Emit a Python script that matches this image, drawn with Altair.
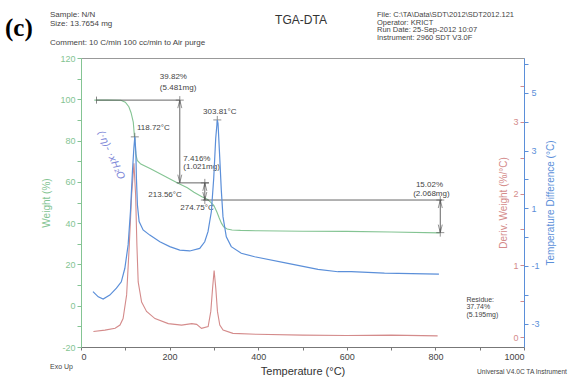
import altair as alt
import pandas as pd

# ---------------- data ----------------
# TGA weight curve (%)
tga_temp = [30, 60, 90, 100, 108, 113, 118, 121, 123.5, 127, 135, 157, 187, 217, 240, 255, 273, 285,
            293, 300, 307, 312, 317, 322, 330, 341, 360, 400, 500, 600, 700, 810]
tga_weight = [99.6, 99.6, 99.5, 98.6, 96.4, 93.5, 88.9, 81, 73.7, 70.4, 68.6, 66.4, 63, 59.6, 57.1, 55,
              52.8, 51.6, 50.1, 48.5, 45.3, 42.5, 40, 38.2, 37.2, 36.7, 36.5, 36.3, 36.1, 36.0, 35.7, 35.3]

# DTG derivative weight curve (%/°C)
dtg_temp = [28, 54, 77, 88, 95, 103, 109, 114.3, 119.5, 123.3, 126.2, 129.1, 136.8, 148, 167, 197, 227,
            250, 261, 272, 287, 293, 297, 300.5, 304.3, 308, 313.3, 320.7, 343, 396, 500, 600, 700, 805]
dtg_value = [0.08, 0.10, 0.125, 0.17, 0.26, 0.59, 1.28, 1.98, 2.42, 1.98, 1.28, 0.77, 0.49, 0.36, 0.26,
             0.19, 0.17, 0.19, 0.18, 0.125, 0.15, 0.36, 0.68, 0.93, 0.68, 0.36, 0.17, 0.10, 0.055, 0.042,
             0.03, 0.025, 0.03, 0.02]

# DTA temperature difference curve (°C)
dta_temp = [27, 39, 50, 65, 80, 91, 99, 106.4, 111.6, 116.1, 119.3, 121.5, 123.8, 125.1, 127.4, 131.2,
            140.2, 155.3, 178, 200.4, 223, 245.5, 268, 279.3, 286.7, 294.2, 299.6, 304.1, 307.7, 309.3,
            313.1, 316.7, 320.5, 328, 339.2, 361.8, 392, 467, 535, 580, 610, 685, 808]
dta_value = [-1.89, -2.07, -2.15, -2.01, -1.77, -1.55, -1.08, -0.27, 0.88, 2.27, 3.08, 3.48, 2.96, 2.04,
             1.11, 0.54, 0.25, 0.07, -0.16, -0.33, -0.45, -0.48, -0.39, -0.16, 0.19, 0.88, 2.04, 3.43,
             4.06, 3.95, 2.79, 1.63, 0.71, 0.01, -0.33, -0.56, -0.68, -0.91, -1.12, -1.2, -1.2, -1.25,
             -1.28]

# step annotations (temperature, weight)
seg_t1 = [35, 223, 216, 279.5, 275, 811]
seg_t2 = [223, 223, 289, 279.5, 815, 811]
seg_w1 = [99.6, 99.6, 59.5, 59.5, 51.2, 51.2]
seg_w2 = [99.6, 59.6, 59.5, 51.2, 51.2, 35.4]

arrow_up_t = [223, 279.5, 811]
arrow_up_w = [99.6, 59.5, 51.2]
arrow_dn_t = [223, 279.5, 811]
arrow_dn_w = [59.6, 51.2, 35.4]

cross_t = [121.5, 307.7, 223, 279.5, 279.5, 811, 811]
cross_w = [81.8, 90.0, 99.6, 59.5, 51.2, 51.2, 35.4]

lab_left_t = [178, 178, 126.2, 231, 231, 152, 224]
lab_left_w = [110.9, 105.6, 86, 71.1, 67, 53.6, 47.3]
lab_left_text = ["39.82%", "(5.481mg)", "118.72°C", "7.416%", "(1.021mg)", "213.56°C", "274.75°C"]
res_t = [870, 870, 870]
res_w = [2.8, -0.8, -4.4]
res_text = ["Residue:", "37.74%", "(5.195mg)"]
lab_center_t = [313.3, 786.6, 791]
lab_center_w = [93.9, 58.3, 53.9]
lab_center_text = ["303.81°C", "15.02%", "(2.068mg)"]

x_ticks = list(range(0, 1001, 100))
w_ticks = list(range(-20, 121, 10))
r_ticks = [0, 0.5, 1, 1.5, 2, 2.5, 3, 3.5]
b_ticks = [-3, -2, -1, 0, 1, 2, 3, 4, 5, 6]

# ---------------- styling ----------------
FONT = "Liberation Sans"
GREEN = "#84c493"
RED = "#d48b8b"
BLUE = "#5b8fd9"
GRAY = "#555555"
TXT = "#444444"

W_PLOT, H_PLOT = 443, 289

x_axis = alt.Axis(values=x_ticks, labelExpr="datum.value % 200 == 0 ? '' + datum.value : ''",
                  title="Temperature (°C)", grid=False, tickSize=3, domainColor="#777",
                  tickColor="#777", labelColor=TXT, labelFontSize=9, titleFontSize=11,
                  titleFontWeight="normal", titleColor="#333", titlePadding=4, labelPadding=2,
                  labelFont=FONT, titleFont=FONT)
x_scale = alt.Scale(domain=[0, 1000], nice=False, zero=False)


def X(f):
    return alt.X(f"{f}:Q", scale=x_scale, axis=x_axis)


w_axis = alt.Axis(values=w_ticks, labelExpr="datum.value % 20 == 0 ? '' + datum.value : ''",
                  title="Weight (%)", grid=False, tickSize=4, domainColor=GREEN, tickColor=GREEN,
                  labelColor=GREEN, titleColor=GREEN, labelFontSize=9, titleFontSize=10,
                  titleFontWeight="normal", labelFont=FONT, titleFont=FONT, titlePadding=8,
                  labelPadding=2)
w_scale = alt.Scale(domain=[-20, 120], nice=False, zero=False)


def YW(f):
    return alt.Y(f"{f}:Q", scale=w_scale, axis=w_axis)


# ---------------- weight layer with annotations ----------------
green = alt.Chart(pd.DataFrame({"T": tga_temp, "W": tga_weight})).mark_line(
    color=GREEN, strokeWidth=1.1).encode(x=X("T"), y=YW("W"))

segs = alt.Chart(pd.DataFrame({"t1": seg_t1, "t2": seg_t2, "w1": seg_w1, "w2": seg_w2})).mark_rule(
    color=GRAY, strokeWidth=0.9).encode(x=X("t1"), x2="t2", y=YW("w1"), y2="w2")

start_tick = alt.Chart(pd.DataFrame({"T": [tga_temp[0] + 5], "W": [seg_w1[0]]})).mark_point(
    shape="M0,-1L0,1", size=49, color=GRAY, strokeWidth=1).encode(x=X("T"), y=YW("W"))

up = alt.Chart(pd.DataFrame({"T": arrow_up_t, "W": arrow_up_w})).mark_point(
    shape="M-1,4L0,0L1,4", size=16, color=GRAY, strokeWidth=0.9, filled=False).encode(
    x=X("T"), y=YW("W"))
dn = alt.Chart(pd.DataFrame({"T": arrow_dn_t, "W": arrow_dn_w})).mark_point(
    shape="M-1,-4L0,0L1,-4", size=16, color=GRAY, strokeWidth=0.9, filled=False).encode(
    x=X("T"), y=YW("W"))

crosses = alt.Chart(pd.DataFrame({"T": cross_t, "W": cross_w})).mark_point(
    shape="M-1,0L1,0M0,-1L0,1", size=64, color=GRAY, strokeWidth=0.9, filled=False).encode(
    x=X("T"), y=YW("W"))

lab_l = alt.Chart(pd.DataFrame({"T": lab_left_t, "W": lab_left_w, "s": lab_left_text})).mark_text(
    align="left", baseline="middle", font=FONT, fontSize=8, color=TXT).encode(
    x=X("T"), y=YW("W"), text="s:N")
lab_r = alt.Chart(pd.DataFrame({"T": res_t, "W": res_w, "s": res_text})).mark_text(
    align="left", baseline="middle", font=FONT, fontSize=7, color=TXT).encode(
    x=X("T"), y=YW("W"), text="s:N")
lab_c = alt.Chart(pd.DataFrame({"T": lab_center_t, "W": lab_center_w, "s": lab_center_text})).mark_text(
    align="center", baseline="middle", font=FONT, fontSize=8, color=TXT).encode(
    x=X("T"), y=YW("W"), text="s:N")

hand = alt.Chart(pd.DataFrame({"T": [67.6], "W": [73.0], "s": ["(·η)- ·xH₂O"]})).mark_text(
    align="center", baseline="middle", font="DejaVu Sans", fontStyle="italic", fontSize=10,
    color="#8088d8", angle=66).encode(x=X("T"), y=YW("W"), text="s:N")

weight_layer = alt.layer(green, segs, start_tick, up, dn, crosses, lab_l, lab_r, lab_c, hand)

# ---------------- DTG layer ----------------
r_axis = alt.Axis(orient="left", offset=-W_PLOT, values=r_ticks,
                  labelExpr="datum.value % 1 == 0 ? '' + datum.value : ''", domain=False, grid=False,
                  tickSize=4, tickColor=RED, labelColor=RED, titleColor=RED,
                  title="Deriv. Weight (%/°C)", labelFontSize=9, titleFontSize=10,
                  titleFontWeight="normal", labelFont=FONT, titleFont=FONT, titlePadding=4,
                  labelPadding=2)
red = alt.Chart(pd.DataFrame({"T": dtg_temp, "R": dtg_value})).mark_line(
    color=RED, strokeWidth=1.1).encode(
    x=X("T"),
    y=alt.Y("R:Q", scale=alt.Scale(domain=[-0.135, 3.885], nice=False, zero=False), axis=r_axis))

# ---------------- DTA layer ----------------
b_axis = alt.Axis(orient="right", values=b_ticks,
                  labelExpr="abs(datum.value) % 2 == 1 ? '' + datum.value : ''", domainColor=BLUE,
                  grid=False, tickSize=4, tickColor=BLUE, labelColor=BLUE, titleColor=BLUE,
                  title="Temperature Difference (°C)", titleAngle=270, titleBaseline="top",
                  labelFontSize=9, titleFontSize=10, titleFontWeight="normal", labelFont=FONT,
                  titleFont=FONT, titlePadding=6, labelPadding=3)
blue = alt.Chart(pd.DataFrame({"T": dta_temp, "D": dta_value})).mark_line(
    color=BLUE, strokeWidth=1.2).encode(
    x=X("T"),
    y=alt.Y("D:Q", scale=alt.Scale(domain=[-3.811, 6.213], nice=False, zero=False), axis=b_axis))


# ---------------- header / footer text ----------------
def note(txt, x, y, size=7.5, align="left", color=TXT, font=FONT, weight="normal"):
    return alt.Chart(pd.DataFrame({"s": [txt]})).mark_text(
        align=align, baseline="middle", font=font, fontSize=size, color=color,
        fontWeight=weight).encode(x=alt.value(x), y=alt.value(y), text="s:N")


notes = alt.layer(
    note("(c)", -76, -30, size=25, font="Liberation Serif", weight="bold", color="#000"),
    note("Sample: N/N", -31, -43, size=8),
    note("Size:  13.7654 mg", -31, -34, size=8),
    note("Comment: 10 C/min 100 cc/min to Air purge", -31, -15, size=8),
    note("TGA-DTA", 220, -38, size=12, align="center", color="#333"),
    note(r"File: C:\TA\Data\SDT\2012\SDT2012.121", 296, -43),
    note("Operator: KRICT", 296, -35.5),
    note("Run Date: 25-Sep-2012 10:07", 296, -28),
    note("Instrument: 2960 SDT V3.0F", 296, -20.5),
    note("Exo Up", -31, 309, size=7),
    note("Universal V4.0C TA Instrument", 396, 314, size=6.6),
)

chart = alt.layer(weight_layer, red, blue, notes).resolve_scale(y="independent").properties(
    width=W_PLOT, height=H_PLOT,
    autosize=alt.AutoSizeParams(type="none"),
    padding={"left": 81, "top": 58, "right": 44, "bottom": 32},
    background="white",
).configure_view(stroke="#999", strokeWidth=1)

chart.save("out.html", embed_options={"renderer": "svg", "actions": False})
